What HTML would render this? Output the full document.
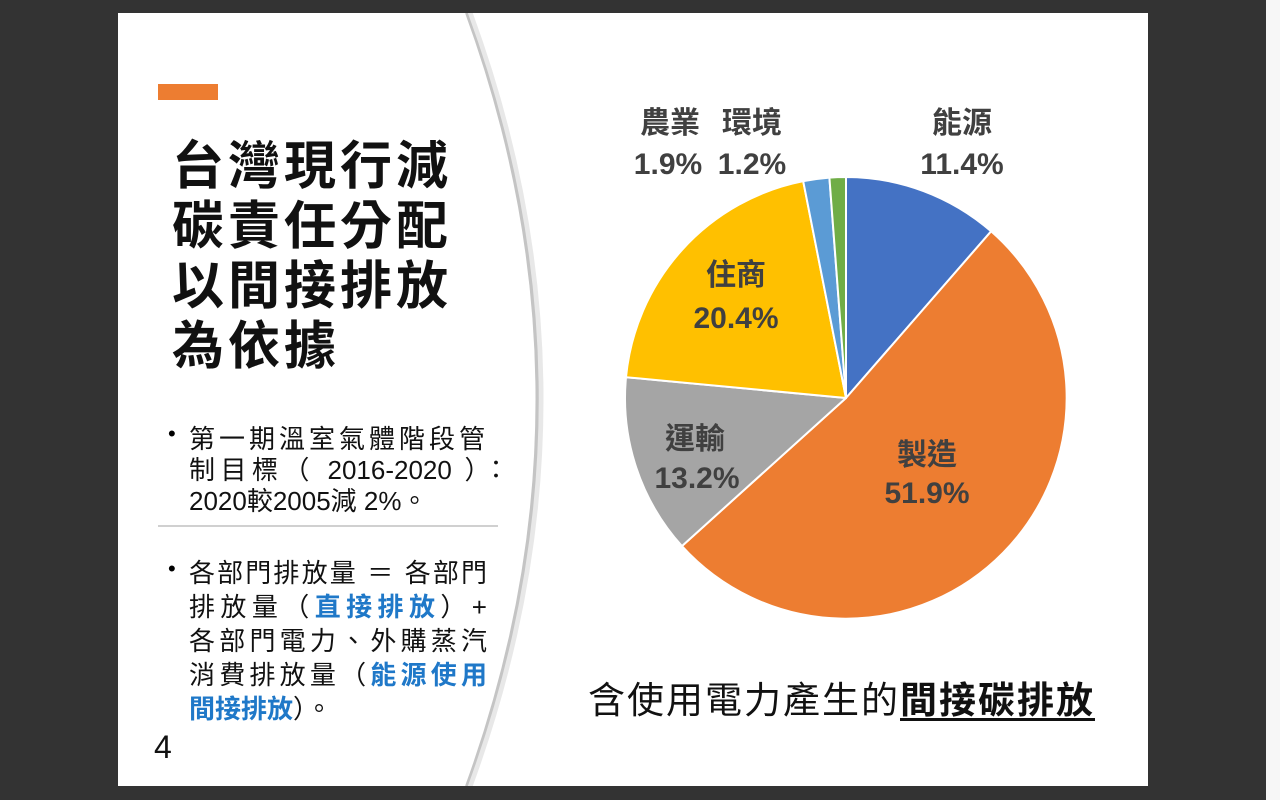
<!DOCTYPE html>
<html><head><meta charset="utf-8"><style>
*{margin:0;padding:0;box-sizing:border-box}
body{width:1280px;height:800px;background:#333;position:relative;overflow:hidden;font-family:"Liberation Sans","Noto Sans CJK TC",sans-serif}
#strip{position:absolute;left:1266px;top:0;width:14px;height:800px;background:#f7f7f7}
#slide{position:absolute;left:118px;top:13px;width:1030px;height:773px;background:#fff;overflow:hidden}
.a{position:absolute;white-space:nowrap}
.t{font-size:52px;font-weight:bold;color:#111;letter-spacing:4px;left:54px}
.l{position:absolute;left:71px;font-size:26px;color:#111;text-align:justify;text-align-last:justify;white-space:nowrap}
.b{color:#1f78c8;font-weight:bold}
.lb{position:absolute;font-size:30px;font-weight:bold;color:#404040;transform:translateX(-50%);white-space:nowrap}
</style></head><body>
<div id="strip"></div>
<div id="slide">
<svg width="1030" height="773" style="position:absolute;left:0;top:0">
<path d="M350 0 Q492 386 350 773" stroke="#e8e8e8" stroke-width="9" fill="none"/>
<path d="M348 0 Q490 386 348 773" stroke="#c4c4c4" stroke-width="3.5" fill="none"/>
<path d="M346 0 Q487 386 346 773" stroke="#fff" stroke-width="2" fill="none"/>
<rect x="40" y="71" width="60" height="16" fill="#ED7D31"/>
<line x1="40" y1="513" x2="380" y2="513" stroke="#d0d0d0" stroke-width="2"/>
<g transform="translate(-118,-13)" stroke="#fff" stroke-width="2" stroke-linejoin="round">
<path d="M846 398 L846 177 A221 221 0 0 1 991.1 231.3Z" fill="#4472C4"/>
<path d="M846 398 L991.1 231.3 A221 221 0 1 1 681.9 546.1Z" fill="#ED7D31"/>
<path d="M846 398 L681.9 546.1 A221 221 0 0 1 626 377.2Z" fill="#A5A5A5"/>
<path d="M846 398 L626 377.2 A221 221 0 0 1 803.2 181.2Z" fill="#FFC000"/>
<path d="M846 398 L803.2 181.2 A221 221 0 0 1 829.4 177.6Z" fill="#5B9BD5"/>
<path d="M846 398 L829.4 177.6 A221 221 0 0 1 846 177Z" fill="#70AD47"/>
</g>
</svg>
<div class="a t" style="top:111px">台灣現行減</div>
<div class="a t" style="top:171px">碳責任分配</div>
<div class="a t" style="top:231px">以間接排放</div>
<div class="a t" style="top:291px">為依據</div>
<div class="a" style="left:50px;top:408px;font-size:22px">•</div>
<div class="l" style="top:406px;width:296px">第一期溫室氣體階段管</div>
<div class="l" style="top:437px;width:320px">制目標（ 2016-2020 ）：</div>
<div class="l" style="top:468px;text-align-last:left">2020較2005減 2%。</div>
<div class="a" style="left:50px;top:543px;font-size:22px">•</div>
<div class="l" style="top:540px;width:298px">各部門排放量 ＝ 各部門</div>
<div class="l" style="top:574px;width:298px">排放量（<span class="b">直接排放</span>）+</div>
<div class="l" style="top:608px;width:298px">各部門電力、外購蒸汽</div>
<div class="l" style="top:642px;width:298px">消費排放量（<span class="b">能源使用</span></div>
<div class="l" style="top:676px;text-align-last:left"><span class="b">間接排放</span>）。</div>
<div class="a" style="left:36px;top:716px;font-size:32px;color:#111">4</div>
<div class="a" style="left:470px;top:657px;font-size:37px;color:#111;letter-spacing:2px">含使用電力產生的<b style="text-decoration:underline;text-underline-offset:5px">間接碳排放</b></div>
</div>
<div class="lb" style="left:962px;top:98px">能源</div>
<div class="lb" style="left:962px;top:148px">11.4%</div>
<div class="lb" style="left:670px;top:98px">農業</div>
<div class="lb" style="left:668px;top:148px">1.9%</div>
<div class="lb" style="left:752px;top:98px">環境</div>
<div class="lb" style="left:752px;top:148px">1.2%</div>
<div class="lb" style="left:736px;top:250px">住商</div>
<div class="lb" style="left:736px;top:302px">20.4%</div>
<div class="lb" style="left:695px;top:414px">運輸</div>
<div class="lb" style="left:697px;top:462px">13.2%</div>
<div class="lb" style="left:927px;top:430px">製造</div>
<div class="lb" style="left:927px;top:477px">51.9%</div>
</body></html>
